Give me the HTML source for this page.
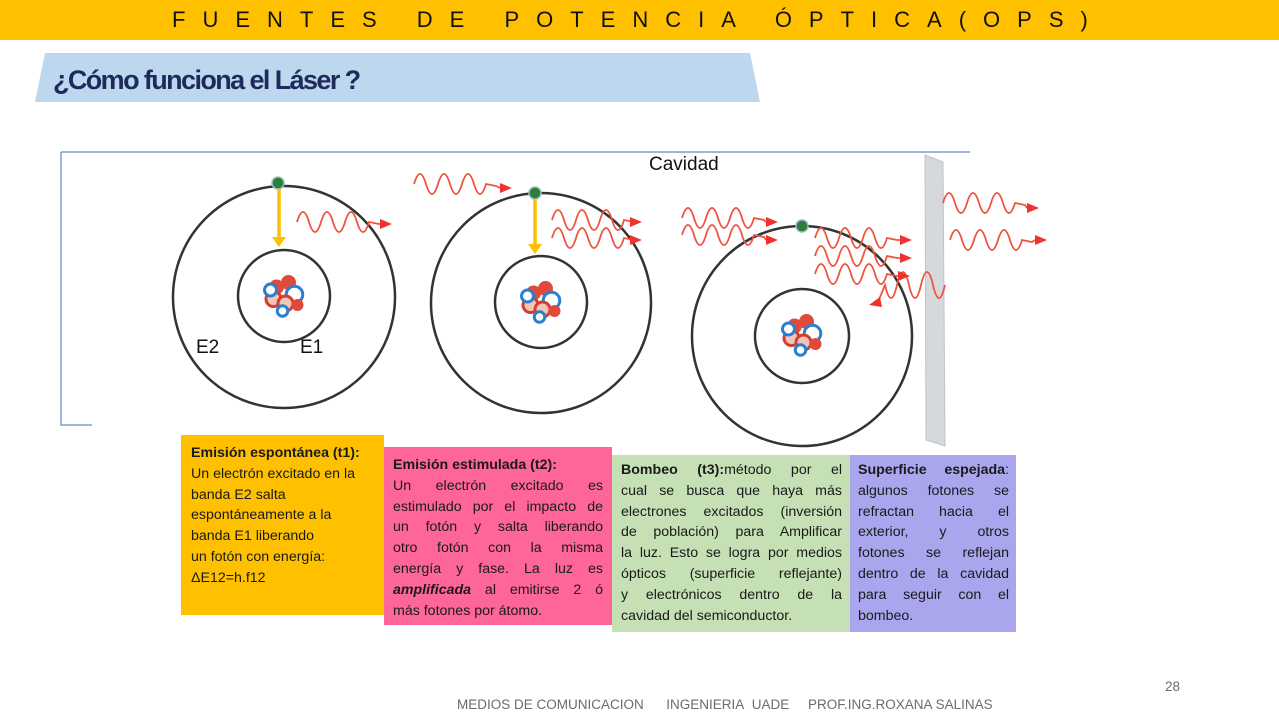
<!DOCTYPE html>
<html><head><meta charset="utf-8">
<style>
*{margin:0;padding:0;box-sizing:border-box}
body{width:1279px;height:720px;position:relative;background:#fff;font-family:"Liberation Sans",sans-serif;overflow:hidden}
.hdr{position:absolute;left:0;top:0;width:1279px;height:40px;background:#ffc000}
.hdr span{position:absolute;left:172px;top:7px;font-size:22px;letter-spacing:17px;color:#111;white-space:nowrap}
.box{position:absolute;font-size:14.2px;line-height:20.8px;color:#1a1a1a}
.box div{text-align:justify;text-align-last:justify;white-space:nowrap}
.box div.l{text-align-last:left}
.b1{left:181px;top:435px;width:203px;height:180px;background:#ffc000;padding:8px 8px 0 10px}
.b1 div{text-align-last:left}
.b2{left:384px;top:447px;width:228px;height:178px;background:#fe6699;padding:8px 9px 0 9px}
.b3{left:612px;top:455px;width:238px;height:177px;background:#c5e0b4;padding:5px 8px 0 9px}
.b4{left:850px;top:455px;width:166px;height:177px;background:#a9a6ee;padding:5px 7px 0 8px}
.foot{position:absolute;top:697px;font-size:13.5px;color:#6b6b6b;white-space:nowrap}
</style></head><body>
<div class="hdr"><span>FUENTES DE POTENCIA ÓPTICA(OPS)</span></div>
<svg width="1279" height="720" style="position:absolute;left:0;top:0">
<polygon points="45,53 750,53 760,102 35,102" fill="#bdd7ee"/>
<text x="53" y="89" font-family="Liberation Sans Narrow, Liberation Sans, sans-serif" font-weight="bold" font-size="27" fill="#1f2a5c" letter-spacing="-1.6">¿Cómo funciona el Láser   ?</text>
<path d="M61,152 L970,152 M61,152 L61,425 L92,425" stroke="#7f9bd3" stroke-width="1.5" fill="none"/>
<polygon points="925,155 943,162 945,446 926,440" fill="#d6d9dc" stroke="#bfc3c6"/>
<g fill="none" stroke="#333" stroke-width="2.5">
<circle cx="284" cy="297" r="111"/><circle cx="284" cy="296" r="46"/>
<circle cx="541" cy="303" r="110"/><circle cx="541" cy="302" r="46"/>
<circle cx="802" cy="336" r="110"/><circle cx="802" cy="336" r="47"/>
</g>
<g id="nuc" transform="translate(284,296) scale(1.5) translate(-284,-296)">
<circle cx="279" cy="290" r="5" fill="#e04a3a"/><circle cx="287" cy="287" r="5" fill="#e04a3a"/>
<circle cx="291" cy="295" r="5.5" fill="#fff" stroke="#2a7fd0" stroke-width="2"/>
<circle cx="277" cy="298" r="5" fill="#f3c4b8" stroke="#d04030" stroke-width="2"/>
<circle cx="285" cy="301" r="5" fill="#f3c4b8" stroke="#d04030" stroke-width="2"/>
<circle cx="275" cy="292" r="4" fill="#fff" stroke="#2a7fd0" stroke-width="2"/>
<circle cx="293" cy="302" r="4" fill="#e04a3a"/>
<circle cx="283" cy="306" r="3.5" fill="#fff" stroke="#2a7fd0" stroke-width="2"/>
</g>
<use href="#nuc" x="257" y="6"/><use href="#nuc" x="518" y="39"/>
<g fill="#2e7d3a" stroke="#9bb" stroke-width="1.5">
<circle cx="278" cy="183" r="6"/><circle cx="535" cy="193" r="6"/><circle cx="802" cy="226" r="6"/>
</g>
<g stroke="#ffc000" stroke-width="3.5" fill="#ffc000">
<line x1="279" y1="189" x2="279" y2="237"/><polygon points="272,237 286,237 279,247" stroke="none"/>
<line x1="535" y1="199" x2="535" y2="244"/><polygon points="528,244 542,244 535,254" stroke="none"/>
</g>
<g fill="none" stroke="#f0533e" stroke-width="1.8">
<path d="M297,222 q6,-20 12,0 t12,0 t12,0 t12,0 t12,0 t12,0 l10,2 L380,224"/>
<path d="M414,184 q6,-20 12,0 t12,0 t12,0 t12,0 t12,0 t12,0 l10,2 L500,188"/>
<path d="M552,220 q6,-20 12,0 t12,0 t12,0 t12,0 t12,0 t12,0 l10,2 L630,222"/>
<path d="M552,238 q6,-20 12,0 t12,0 t12,0 t12,0 t12,0 t12,0 l10,2 L630,240"/>
<path d="M682,218 q6,-20 12,0 t12,0 t12,0 t12,0 t12,0 t12,0 l10,2 L766,222"/>
<path d="M682,235 q6,-20 12,0 t12,0 t12,0 t12,0 t12,0 t12,0 l10,2 L766,240"/>
<path d="M815,238 q6,-20 12,0 t12,0 t12,0 t12,0 t12,0 t12,0 l10,2 L900,240"/>
<path d="M815,256 q6,-20 12,0 t12,0 t12,0 t12,0 t12,0 t12,0 l10,2 L900,258"/>
<path d="M815,274 q6,-20 12,0 t12,0 t12,0 t12,0 t12,0 t12,0 l10,2 L898,276"/>
<path d="M945,285 q-6,26 -12,0 t-12,0 t-12,0 t-12,0 t-12,0 L878,302"/>
<path d="M943,203 q6,-20 12,0 t12,0 t12,0 t12,0 t12,0 t12,0 l10,2 L1027,208"/>
<path d="M950,240 q6,-20 12,0 t12,0 t12,0 t12,0 t12,0 t12,0 l10,2 L1035,240"/>
</g>
<g fill="#f0332e">
<polygon points="380,219 392,224 380,229"/>
<polygon points="500,183 512,188 500,193"/>
<polygon points="630,217 642,222 630,227"/><polygon points="630,235 642,240 630,245"/>
<polygon points="766,217 778,222 766,227"/><polygon points="766,235 778,240 766,245"/>
<polygon points="900,235 912,240 900,245"/><polygon points="900,253 912,258 900,263"/>
<polygon points="898,271 910,276 898,281"/>
<polygon points="880,297 869,305 882,307"/>
<polygon points="1027,203 1039,208 1027,213"/><polygon points="1035,235 1047,240 1035,245"/>
</g>
<g font-family="Liberation Sans, sans-serif" font-size="19" fill="#111">
<text x="196" y="353">E2</text><text x="300" y="353">E1</text>
<text x="649" y="170">Cavidad</text>
</g>
</svg>
<div class="box b1">
<div><b>Emisión espontánea (t1):</b></div>
<div>Un electrón excitado en la</div>
<div>banda E2 salta</div>
<div>espontáneamente a la</div>
<div>banda E1 liberando</div>
<div>un fotón con energía:</div>
<div>ΔE12=h.f12</div>
</div>
<div class="box b2">
<div class="l"><b>Emisión estimulada (t2):</b></div>
<div>Un electrón excitado es</div>
<div>estimulado por el impacto de</div>
<div>un fotón y salta liberando</div>
<div>otro fotón con la misma</div>
<div>energía y fase. La luz es</div>
<div><b><i>amplificada</i></b> al emitirse 2 ó</div>
<div class="l">más fotones por átomo.</div>
</div>
<div class="box b3">
<div><b>Bombeo (t3):</b>método por el</div>
<div>cual se busca que haya más</div>
<div>electrones excitados (inversión</div>
<div>de población) para Amplificar</div>
<div>la luz. Esto se logra por medios</div>
<div>ópticos (superficie reflejante)</div>
<div>y electrónicos dentro de la</div>
<div class="l">cavidad del semiconductor.</div>
</div>
<div class="box b4">
<div><b>Superficie espejada</b>:</div>
<div>algunos fotones se</div>
<div>refractan hacia el</div>
<div>exterior, y otros</div>
<div>fotones se reflejan</div>
<div>dentro de la cavidad</div>
<div>para seguir con el</div>
<div class="l">bombeo.</div>
</div>
<div class="foot" style="left:457px">MEDIOS DE COMUNICACION&nbsp;&nbsp;&nbsp;&nbsp;&nbsp;&nbsp;INGENIERIA&nbsp; UADE&nbsp;&nbsp;&nbsp;&nbsp;&nbsp;PROF.ING.ROXANA SALINAS</div>
<div class="foot" style="left:1165px;top:679px">28</div>
</body></html>
